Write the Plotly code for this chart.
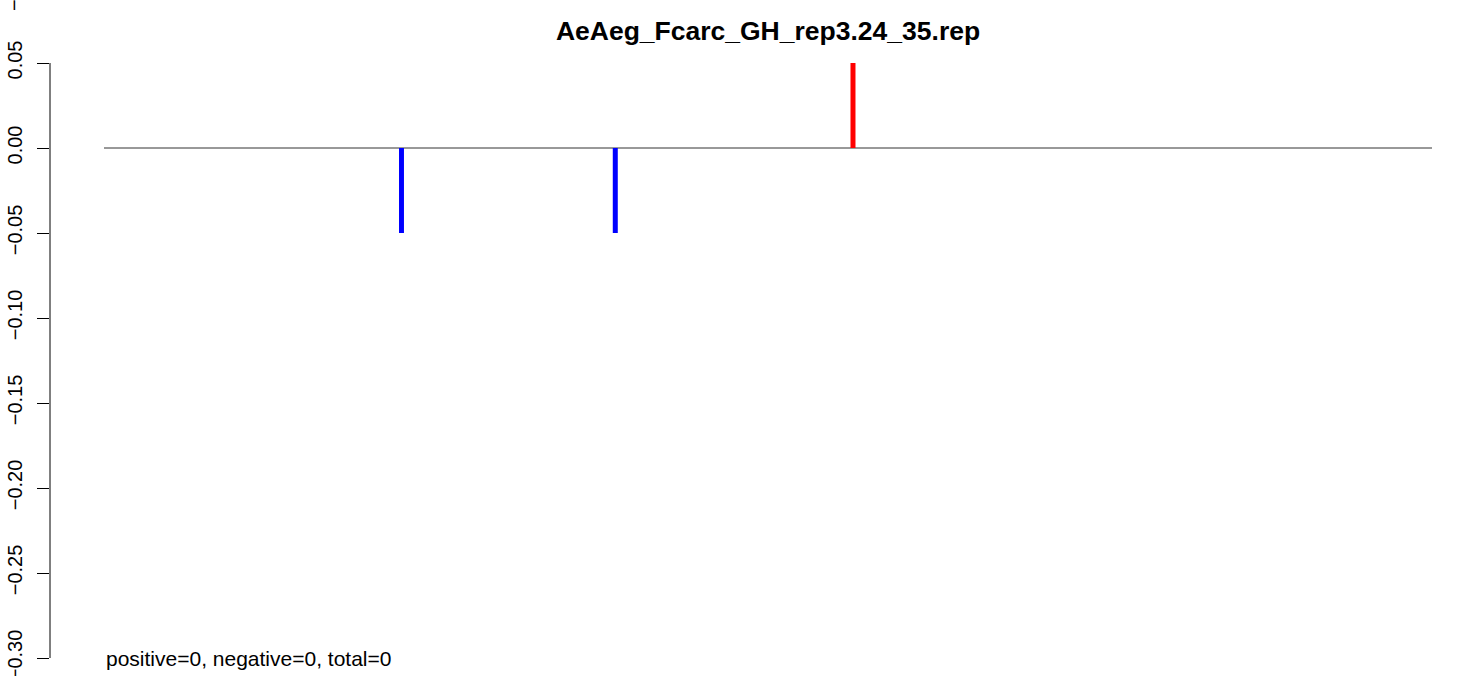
import plotly.graph_objects as go

# ---- data ----
title_text = "AeAeg_Fcarc_GH_rep3.24_35.rep"
baseline_x = [0, 1000]
seg_pos = [224, 385, 564]
seg_val = [-0.05, -0.05, 0.05]
seg_col = ["#0000FF", "#0000FF", "#FF0000"]
ytick_vals = [0.05, 0.00, -0.05, -0.10, -0.15, -0.20, -0.25, -0.30]
ytick_text = ["0.05", "0.00", "\u22120.05", "\u22120.10", "\u22120.15", "\u22120.20", "\u22120.25", "\u22120.30"]
summary_text = "positive=0, negative=0, total=0"

W, H = 1460, 676
FONT = "Liberation Sans, Arial, Helvetica, sans-serif"

fig = go.Figure()

# baseline at zero
fig.add_trace(go.Scatter(x=baseline_x, y=[0, 0], mode="lines",
                         line=dict(color="#333333", width=1), hoverinfo="skip"))

# vertical segments
for p, v, c in zip(seg_pos, seg_val, seg_col):
    fig.add_trace(go.Scatter(x=[p, p], y=[0, v], mode="lines",
                             line=dict(color=c, width=5), hoverinfo="skip"))

# y axis line (spans first to last tick, like R)
fig.add_shape(type="line", xref="paper", yref="y", x0=0, x1=0,
              y0=min(ytick_vals), y1=max(ytick_vals),
              line=dict(color="black", width=1))

fig.add_annotation(text=summary_text, x=baseline_x[0], y=min(ytick_vals),
                   xref="x", yref="y", xanchor="left", yanchor="middle",
                   showarrow=False, font=dict(family=FONT, size=21, color="black"))

# stray rotated minus at top-left (from neighbouring panel)
fig.add_annotation(text="\u2212", textangle=-90, xref="paper", yref="paper",
                   x=0, y=1, xshift=-36, yshift=-5, xanchor="center", yanchor="middle",
                   showarrow=False, font=dict(family=FONT, size=20, color="black"))

fig.update_layout(
    width=W, height=H,
    margin=dict(l=50, r=0, t=0, b=0, pad=0, autoexpand=False),
    paper_bgcolor="white", plot_bgcolor="white",
    showlegend=False,
    title=dict(text="<b>" + title_text + "</b>", x=768 / W, y=1 - 31 / H,
               xanchor="center", yanchor="middle", automargin=False,
               font=dict(family=FONT, size=26.5, color="black")),
    xaxis=dict(range=[(50 - 104) / 1.328, (1460 - 104) / 1.328], visible=False,
               automargin=False),
    yaxis=dict(range=[(148 - 676) / 1700, 148 / 1700],
               tickvals=ytick_vals, ticktext=ytick_text,
               ticks="outside", ticklen=12, tickwidth=1, tickcolor="black",
               tickangle=-90, showgrid=False, zeroline=False, showline=False,
               automargin=False, ticklabeloverflow="allow",
               ticklabelstandoff=7,
               tickfont=dict(family=FONT, size=20, color="black")),
)

fig.write_html("out.html", config={"displayModeBar": False, "staticPlot": True},
               post_script="document.body.style.margin='0';document.body.style.overflow='hidden';")
